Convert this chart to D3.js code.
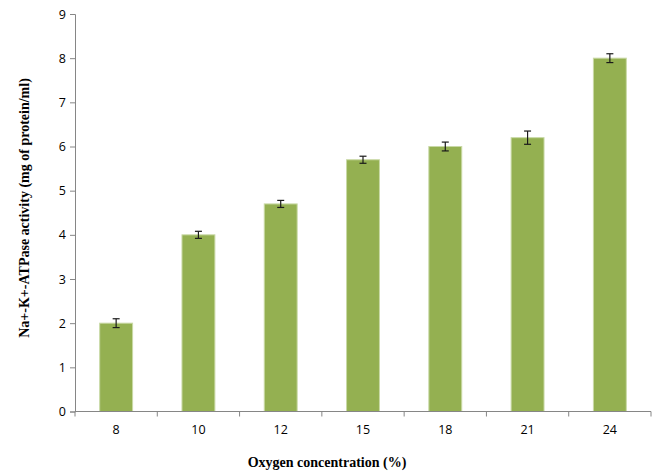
<!DOCTYPE html>
<html>
<head>
<meta charset="utf-8">
<script src="https://cdn.jsdelivr.net/npm/d3@7"></script>
<style>
  html, body { margin: 0; padding: 0; background: #fff; }
  svg { display: block; }
</style>
</head>
<body>
<svg id="chart" width="658" height="475"></svg>
<script>
// Oxygen concentration categories (%)
const categories = ["8", "10", "12", "15", "18", "21", "24"];
// Mean Na+-K+-ATPase activity per category
const values = [2.0, 4.0, 4.7, 5.7, 6.0, 6.2, 8.0];
// Error bar half-widths
const errors = [0.1, 0.08, 0.08, 0.08, 0.1, 0.15, 0.1];
// Y axis tick values
const yTicks = [0, 1, 2, 3, 4, 5, 6, 7, 8, 9];

const svg = d3.select("#chart");
const plotLeft = 75, plotRight = 651, plotTop = 14, plotBottom = 411.5;

const x = d3.scaleBand().domain(categories).range([plotLeft, plotRight]).paddingInner(0.6).paddingOuter(0.3);
const xEdges = d3.scaleLinear().domain([0, categories.length]).range([plotLeft, plotRight]);
const y = d3.scaleLinear().domain([0, 9]).range([plotBottom, plotTop]);

const axisColor = "#868686";
const tickFont = "'Open Sans', 'Liberation Sans', sans-serif";
const titleFont = "'Liberation Serif', 'Times New Roman', serif";

// Bars
svg.append("g").selectAll("rect").data(values).join("rect")
  .attr("x", (d, i) => x(categories[i]))
  .attr("y", d => y(d))
  .attr("width", x.bandwidth())
  .attr("height", d => y(0) - y(d))
  .attr("fill", "#94B051")
  .attr("stroke", "#C9D9A6")
  .attr("stroke-width", 1);

// Error bars
const eb = svg.append("g").attr("stroke", "#1a1a1a").attr("stroke-width", 1.2);
values.forEach((v, i) => {
  const cx = x(categories[i]) + x.bandwidth() / 2;
  const yt = y(v + errors[i]), yb = y(v - errors[i]);
  eb.append("line").attr("x1", cx).attr("x2", cx).attr("y1", yt).attr("y2", yb);
  eb.append("line").attr("x1", cx - 3.5).attr("x2", cx + 3.5).attr("y1", yt).attr("y2", yt);
  eb.append("line").attr("x1", cx - 3.5).attr("x2", cx + 3.5).attr("y1", yb).attr("y2", yb);
});

// Y axis
const yAxis = svg.append("g").attr("transform", `translate(${plotLeft},0)`)
  .call(d3.axisLeft(y).tickValues(yTicks).tickSize(5).tickPadding(4).tickFormat(d3.format("d")));
yAxis.select(".domain").attr("stroke", axisColor);
yAxis.selectAll(".tick line").attr("stroke", axisColor);
yAxis.selectAll(".tick text").attr("font-family", tickFont).attr("font-size", 12.5).attr("fill", "#000");

// X axis with ticks at category boundaries
const xg = svg.append("g").attr("transform", `translate(0,${plotBottom})`);
xg.append("line").attr("x1", plotLeft).attr("x2", plotRight).attr("stroke", axisColor);
xg.selectAll(".edge").data(d3.range(categories.length + 1)).join("line")
  .attr("class", "edge")
  .attr("x1", d => xEdges(d)).attr("x2", d => xEdges(d))
  .attr("y1", 0).attr("y2", 5).attr("stroke", axisColor);
xg.selectAll("text").data(categories).join("text")
  .attr("x", d => x(d) + x.bandwidth() / 2)
  .attr("y", 22)
  .attr("text-anchor", "middle")
  .attr("font-family", tickFont).attr("font-size", 12.5).attr("fill", "#000")
  .text(d => d);

// Axis titles
svg.append("text")
  .attr("x", 327).attr("y", 467)
  .attr("text-anchor", "middle")
  .attr("font-family", titleFont).attr("font-weight", "bold").attr("font-size", 14)
  .text("Oxygen concentration (%)");

svg.append("text")
  .attr("transform", "translate(29,208) rotate(-90)")
  .attr("text-anchor", "middle")
  .attr("font-family", titleFont).attr("font-weight", "bold").attr("font-size", 14)
  .text("Na+-K+-ATPase activity (mg of protein/ml)");
</script>
</body>
</html>
